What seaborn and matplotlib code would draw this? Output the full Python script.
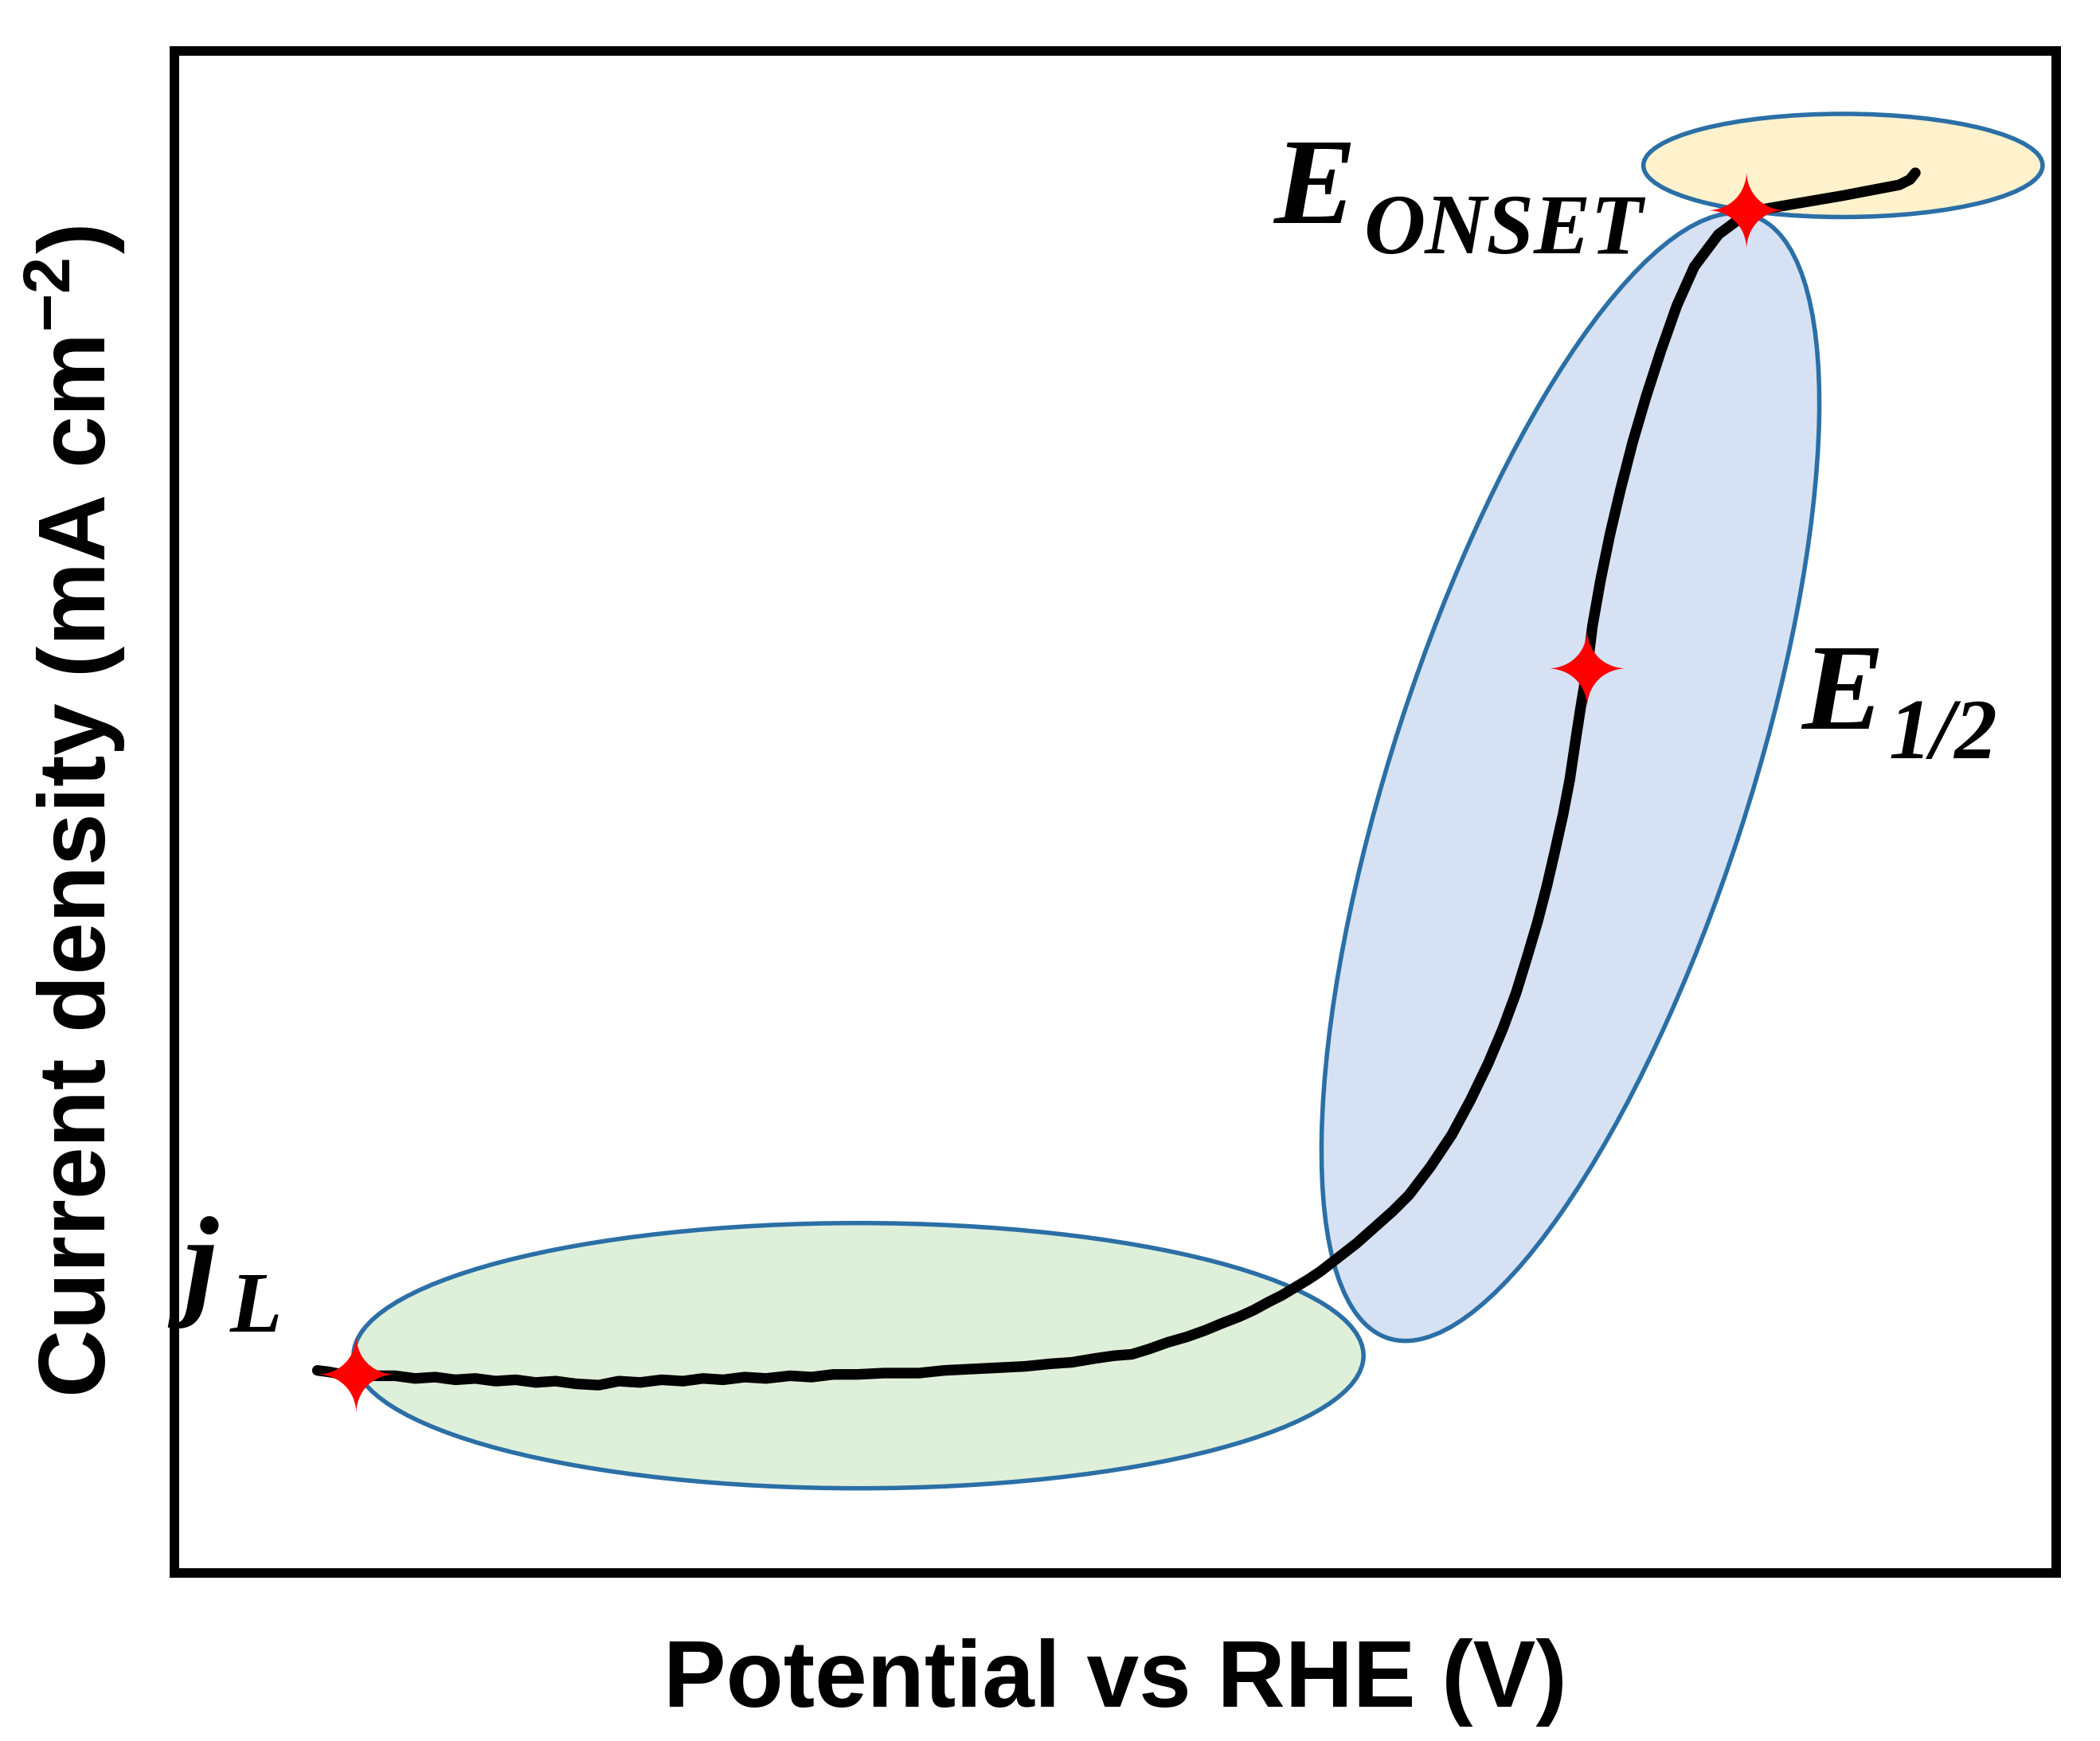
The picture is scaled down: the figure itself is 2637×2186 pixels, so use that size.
import numpy as np
import pandas as pd
import matplotlib
matplotlib.use("Agg")
import matplotlib.pyplot as plt
import seaborn as sns
from matplotlib.patches import Ellipse
from matplotlib.path import Path

# ---- data (x = potential axis units, y = current density axis units) ----
potential = [237, 245, 256, 266, 280, 295, 310, 325, 340, 355, 370, 385, 400, 415, 430,
             447, 462, 478, 494, 510, 525, 540, 556, 572, 590, 606, 622, 640, 660,
             686, 705, 725, 745, 765, 785, 800, 818, 832, 845, 858, 872, 886, 900, 912, 925,
             936, 947, 957, 967, 977, 986, 995, 1004, 1013, 1022, 1031, 1040,
             1052, 1068, 1084, 1098, 1111, 1122, 1132, 1140, 1148, 1155, 1161, 1167, 1172,
             1176, 1180, 1185, 1189, 1195, 1202, 1210, 1219, 1229, 1240, 1252, 1265, 1283,
             1306, 1335, 1376, 1418, 1426, 1430]
current_px = [1023, 1024, 1026, 1026, 1027, 1027, 1029, 1028, 1030, 1029, 1031, 1030, 1032, 1031, 1033,
              1034, 1031, 1032, 1030, 1031, 1029, 1030, 1028, 1029, 1027, 1028, 1026, 1026, 1025,
              1025, 1023, 1022, 1021, 1020, 1018, 1017, 1014, 1012, 1011, 1007, 1002, 998, 993, 988, 983,
              978, 972, 967, 961, 955, 949, 942, 935, 928, 920, 912, 904,
              892, 871, 847, 821, 794, 768, 741, 715, 688, 661, 635, 608, 582,
              555, 529, 499, 467, 433, 399, 365, 330, 296, 262, 228, 199, 175,
              158, 153, 146, 138, 134, 129]
current = [1300 - v for v in current_px]

star_x = [266, 1185, 1304]
star_y = [1300 - 1026, 1300 - 499, 1300 - 157]

# regions: (center x, center y, width, height, angle, fill)
region_names = ["jL", "E12", "Eonset"]
region_cx = [641, 1172.5, 1376]
region_cy = [1300 - 1012, 1300 - 580, 1300 - 123.5]
region_w = [754, 881, 298]
region_h = [198, 266, 77]
region_angle = [0, 72, 0]
region_fill = ["#DFF0DA", "#D6E2F3", "#FFF2CC"]

xlabel = "Potential vs RHE (V)"
ylabel = "Current density (mA cm$^{-2}$)"

# ---- styling ----
sns.set_theme(style="white")
plt.rcParams['font.family'] = ['Liberation Sans', 'DejaVu Sans']
plt.rcParams['mathtext.fontset'] = 'custom'
plt.rcParams['mathtext.rm'] = 'Liberation Sans:bold'
plt.rcParams['mathtext.bf'] = 'Liberation Sans:bold'
plt.rcParams['mathtext.it'] = 'Liberation Sans:italic:bold'
plt.rcParams['mathtext.default'] = 'regular'

fig = plt.figure(figsize=(2637 / 200, 2186 / 200), dpi=200)
ax = fig.add_axes([0.0830, 0.09652, 0.8961, 0.8742])

for cx, cy, w, h, ang, fc in zip(region_cx, region_cy, region_w, region_h, region_angle, region_fill):
    ax.add_patch(Ellipse((cx, cy), w, h, angle=ang, facecolor=fc, edgecolor="#2B6FA6",
                         linewidth=2.0, zorder=1))

df = pd.DataFrame({"potential": potential, "current": current})
sns.lineplot(data=df, x="potential", y="current", sort=False, estimator=None,
             color="black", linewidth=4.8, ax=ax, zorder=3)

# four-pointed "sparkle" marker with concave edges
t = np.linspace(0, 2 * np.pi, 240)
p = 0.56
sx = np.sign(np.cos(t)) * np.abs(np.cos(t)) ** (2 / p)
sy = np.sign(np.sin(t)) * np.abs(np.sin(t)) ** (2 / p)
sparkle = Path(np.column_stack([sx, sy]), closed=True)

sdf = pd.DataFrame({"x": star_x, "y": star_y})
sns.scatterplot(data=sdf, x="x", y="y", marker=sparkle, s=35 ** 2, color="#FF0000",
                edgecolor="none", linewidth=0, ax=ax, zorder=4)

ax.set_xlim(130.2, 1535.1)
ax.set_ylim(1300 - 1174.2, 1300 - 38.05)
ax.set_xticks([])
ax.set_yticks([])
for sp in ax.spines.values():
    sp.set_visible(True)
    sp.set_color("black")
    sp.set_linewidth(4.3)

serif = dict(family=['Liberation Serif', 'DejaVu Serif'], weight='bold', style='italic',
             color='black', ha='left', va='baseline', zorder=5)
big = 55.8
small = 38.5
ax.text(951, 1300 - 166.5, "E", fontsize=big, **serif)
ax.text(1018, 1300 - 189, "ONSET", fontsize=small, **serif)
ax.text(1345, 1300 - 544, "E", fontsize=big, **serif)
ax.text(1410, 1300 - 566, "1/2", fontsize=small, **serif)
ax.text(137, 1300 - 972, "j", fontsize=big, **serif)
ax.text(172, 1300 - 994, "L", fontsize=small, **serif)

ax.set_xlabel(xlabel, fontsize=42.5, fontweight='bold', color='black', va='baseline')
ax.set_ylabel(ylabel, fontsize=42.5, fontweight='bold', color='black', va='baseline')
ax.xaxis.set_label_coords(0.5, (1975 - 2143) / 1911)
ax.yaxis.set_label_coords((133 - 219) / 2363, 0.5)

fig.savefig("out.png", dpi=200, facecolor="white")
